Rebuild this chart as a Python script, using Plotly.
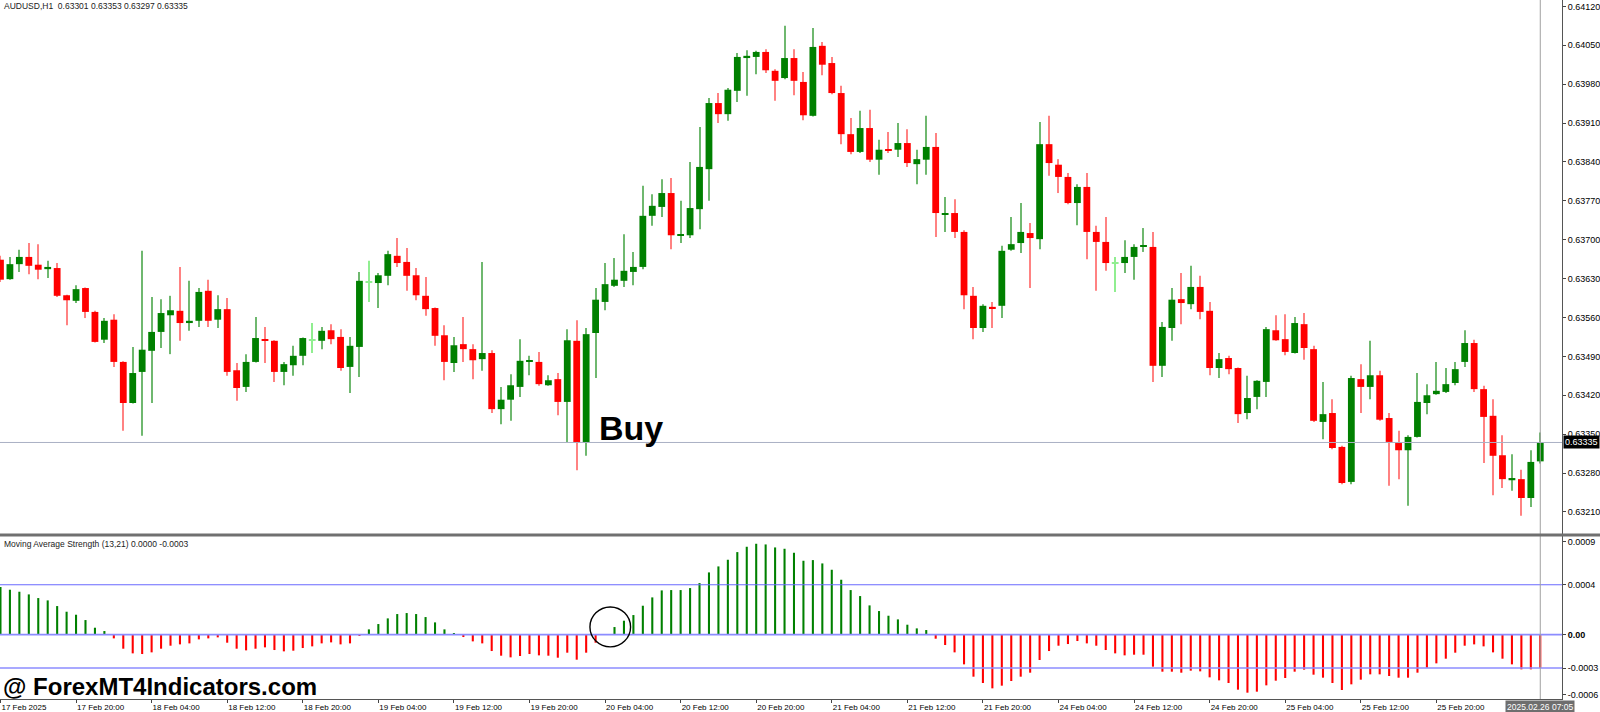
import numpy as np
import plotly.graph_objects as go

# === AUDUSD H1, 164 bars (17 Feb 12:00 -> 26 Feb 07:00) ===
opens = [
    0.63664, 0.63629, 0.63656, 0.63669, 0.63655, 0.63647, 0.63649, 0.63600, 0.63590, 0.63613,
    0.63570, 0.63520, 0.63556, 0.63480, 0.63406, 0.63462, 0.63500, 0.63534, 0.63564, 0.63572,
    0.63550, 0.63554, 0.63608, 0.63556, 0.63575, 0.63465, 0.63435, 0.63480, 0.63521, 0.63518,
    0.63462, 0.63474, 0.63491, 0.63520, 0.63518, 0.63537, 0.63525, 0.63471, 0.63507, 0.63624,
    0.63622, 0.63635, 0.63671, 0.63660, 0.63636, 0.63599, 0.63577, 0.63528, 0.63478, 0.63512,
    0.63503, 0.63485, 0.63496, 0.63395, 0.63412, 0.63435, 0.63480, 0.63480, 0.63438, 0.63449,
    0.63408, 0.63518, 0.63334, 0.63532, 0.63588, 0.63617, 0.63626, 0.63642, 0.63651, 0.63743,
    0.63759, 0.63784, 0.63707, 0.63708, 0.63755, 0.63827, 0.63946, 0.63926, 0.63968, 0.64027,
    0.64029, 0.64038, 0.64004, 0.63991, 0.64027, 0.63984, 0.63923, 0.64049, 0.64018, 0.63964,
    0.63890, 0.63858, 0.63901, 0.63844, 0.63863, 0.63862, 0.63874, 0.63836, 0.63844, 0.63867,
    0.63746, 0.63748, 0.63714, 0.63599, 0.63541, 0.63579, 0.63581, 0.63682, 0.63694, 0.63712,
    0.63701, 0.63872, 0.63835, 0.63813, 0.63766, 0.63795, 0.63714, 0.63696, 0.63658, 0.63658,
    0.63669, 0.63687, 0.63687, 0.63473, 0.63541, 0.63593, 0.63584, 0.63615, 0.63572, 0.63469,
    0.63487, 0.63469, 0.63388, 0.63417, 0.63444, 0.63537, 0.63521, 0.63496, 0.63548, 0.63503,
    0.63372, 0.63388, 0.63327, 0.63264, 0.63449, 0.63435, 0.63456, 0.63379, 0.63334, 0.63321,
    0.63345, 0.63406, 0.63422, 0.63426, 0.63442, 0.63480, 0.63514, 0.63431, 0.63383, 0.63312,
    0.63267, 0.63269, 0.63235, 0.63301,
]
highs = [
    0.63671, 0.63669, 0.63682, 0.63694, 0.63692, 0.63662, 0.63658, 0.63601, 0.63618, 0.63614,
    0.63572, 0.63559, 0.63566, 0.63481, 0.63507, 0.63680, 0.63597, 0.63593, 0.63599, 0.63651,
    0.63626, 0.63613, 0.63628, 0.63600, 0.63595, 0.63478, 0.63494, 0.63561, 0.63543, 0.63519,
    0.63480, 0.63509, 0.63524, 0.63550, 0.63543, 0.63548, 0.63539, 0.63525, 0.63642, 0.63662,
    0.63640, 0.63680, 0.63703, 0.63685, 0.63649, 0.63633, 0.63578, 0.63546, 0.63525, 0.63561,
    0.63512, 0.63660, 0.63501, 0.63435, 0.63458, 0.63521, 0.63491, 0.63498, 0.63456, 0.63460,
    0.63539, 0.63555, 0.63541, 0.63613, 0.63658, 0.63667, 0.63710, 0.63678, 0.63797, 0.63782,
    0.63809, 0.63811, 0.63770, 0.63840, 0.63903, 0.63955, 0.63964, 0.63973, 0.64036, 0.64041,
    0.64040, 0.64043, 0.64007, 0.64085, 0.64043, 0.64002, 0.64081, 0.64056, 0.64029, 0.63977,
    0.63919, 0.63932, 0.63934, 0.63880, 0.63894, 0.63910, 0.63899, 0.63862, 0.63923, 0.63892,
    0.63777, 0.63773, 0.63717, 0.63615, 0.63584, 0.63588, 0.63689, 0.63741, 0.63766, 0.63730,
    0.63912, 0.63923, 0.63845, 0.63820, 0.63800, 0.63820, 0.63725, 0.63741, 0.63669, 0.63699,
    0.63692, 0.63721, 0.63714, 0.63552, 0.63613, 0.63640, 0.63653, 0.63635, 0.63588, 0.63496,
    0.63491, 0.63470, 0.63455, 0.63447, 0.63543, 0.63564, 0.63566, 0.63561, 0.63568, 0.63509,
    0.63444, 0.63413, 0.63329, 0.63455, 0.63476, 0.63518, 0.63464, 0.63388, 0.63356, 0.63348,
    0.63460, 0.63440, 0.63480, 0.63469, 0.63480, 0.63537, 0.63520, 0.63437, 0.63413, 0.63348,
    0.63314, 0.63286, 0.63321, 0.63353,
]
lows = [
    0.63624, 0.63628, 0.63642, 0.63638, 0.63629, 0.63631, 0.63597, 0.63546, 0.63586, 0.63559,
    0.63515, 0.63514, 0.63471, 0.63356, 0.63405, 0.63347, 0.63406, 0.63505, 0.63494, 0.63518,
    0.63536, 0.63543, 0.63543, 0.63541, 0.63455, 0.63410, 0.63426, 0.63479, 0.63478, 0.63444,
    0.63438, 0.63455, 0.63474, 0.63496, 0.63503, 0.63512, 0.63464, 0.63424, 0.63453, 0.63588,
    0.63577, 0.63618, 0.63651, 0.63608, 0.63591, 0.63563, 0.63509, 0.63447, 0.63462, 0.63480,
    0.63449, 0.63464, 0.63388, 0.63368, 0.63374, 0.63417, 0.63456, 0.63437, 0.63437, 0.63384,
    0.63336, 0.63285, 0.63311, 0.63451, 0.63573, 0.63615, 0.63615, 0.63618, 0.63647, 0.63725,
    0.63741, 0.63683, 0.63694, 0.63703, 0.63719, 0.63770, 0.63910, 0.63914, 0.63948, 0.63959,
    0.63998, 0.64000, 0.63950, 0.63989, 0.63960, 0.63915, 0.63922, 0.63996, 0.63962, 0.63872,
    0.63854, 0.63856, 0.63840, 0.63817, 0.63856, 0.63849, 0.63831, 0.63800, 0.63817, 0.63705,
    0.63714, 0.63703, 0.63575, 0.63521, 0.63534, 0.63541, 0.63559, 0.63680, 0.63676, 0.63613,
    0.63683, 0.63815, 0.63784, 0.63764, 0.63726, 0.63665, 0.63608, 0.63644, 0.63606, 0.63640,
    0.63628, 0.63678, 0.63444, 0.63453, 0.63518, 0.63548, 0.63575, 0.63557, 0.63456, 0.63451,
    0.63458, 0.63370, 0.63377, 0.63395, 0.63417, 0.63518, 0.63492, 0.63495, 0.63484, 0.63372,
    0.63341, 0.63323, 0.63260, 0.63260, 0.63388, 0.63413, 0.63374, 0.63257, 0.63269, 0.63221,
    0.63344, 0.63386, 0.63421, 0.63424, 0.63438, 0.63471, 0.63426, 0.63298, 0.63240, 0.63253,
    0.63248, 0.63203, 0.63219, 0.63297,
]
closes = [
    0.63628, 0.63656, 0.63669, 0.63653, 0.63646, 0.63651, 0.63599, 0.63591, 0.63611, 0.63570,
    0.63516, 0.63554, 0.63480, 0.63406, 0.63460, 0.63502, 0.63534, 0.63568, 0.63573, 0.63550,
    0.63554, 0.63606, 0.63554, 0.63575, 0.63462, 0.63433, 0.63480, 0.63523, 0.63518, 0.63462,
    0.63476, 0.63491, 0.63523, 0.63520, 0.63536, 0.63521, 0.63469, 0.63509, 0.63626, 0.63624,
    0.63636, 0.63674, 0.63658, 0.63635, 0.63600, 0.63575, 0.63527, 0.63480, 0.63510, 0.63503,
    0.63483, 0.63496, 0.63395, 0.63412, 0.63438, 0.63482, 0.63482, 0.63440, 0.63447, 0.63408,
    0.63519, 0.63334, 0.63530, 0.63592, 0.63620, 0.63628, 0.63644, 0.63651, 0.63743, 0.63761,
    0.63784, 0.63708, 0.63710, 0.63757, 0.63831, 0.63946, 0.63926, 0.63970, 0.64029, 0.64031,
    0.64038, 0.64005, 0.63986, 0.64027, 0.63986, 0.63924, 0.64047, 0.64015, 0.63964, 0.63890,
    0.63858, 0.63901, 0.63844, 0.63862, 0.63861, 0.63874, 0.63838, 0.63845, 0.63867, 0.63748,
    0.63748, 0.63714, 0.63600, 0.63541, 0.63581, 0.63577, 0.63680, 0.63692, 0.63714, 0.63703,
    0.63872, 0.63838, 0.63813, 0.63766, 0.63795, 0.63714, 0.63696, 0.63658, 0.63658, 0.63669,
    0.63687, 0.63689, 0.63473, 0.63543, 0.63592, 0.63586, 0.63615, 0.63570, 0.63469, 0.63485,
    0.63467, 0.63386, 0.63415, 0.63446, 0.63539, 0.63519, 0.63498, 0.63550, 0.63505, 0.63374,
    0.63386, 0.63325, 0.63262, 0.63451, 0.63435, 0.63456, 0.63376, 0.63336, 0.63321, 0.63345,
    0.63408, 0.63420, 0.63428, 0.63440, 0.63467, 0.63514, 0.63431, 0.63381, 0.63311, 0.63269,
    0.63271, 0.63235, 0.63300, 0.63335,
]

# Moving Average Strength (13,21) histogram, one value per bar
mas_strength = [
    0.000429, 0.000405, 0.000387, 0.000363, 0.000330, 0.000309, 0.000258, 0.000207, 0.000180, 0.000132,
    0.000063, 0.000033, -0.000033, -0.000126, -0.000168, -0.000174, -0.000159, -0.000126, -0.000099, -0.000087,
    -0.000078, -0.000042, -0.000033, -0.000024, -0.000072, -0.000126, -0.000141, -0.000126, -0.000114, -0.000138,
    -0.000150, -0.000144, -0.000120, -0.000105, -0.000078, -0.000069, -0.000087, -0.000078, -0.000006, 0.000048,
    0.000096, 0.000147, 0.000186, 0.000195, 0.000186, 0.000159, 0.000111, 0.000048, 0.000015, -0.000021,
    -0.000060, -0.000078, -0.000147, -0.000189, -0.000204, -0.000192, -0.000174, -0.000186, -0.000189, -0.000207,
    -0.000162, -0.000225, -0.000162, -0.000072, 0.000003, 0.000069, 0.000126, 0.000177, 0.000261, 0.000336,
    0.000399, 0.000402, 0.000402, 0.000420, 0.000465, 0.000561, 0.000615, 0.000675, 0.000744, 0.000792,
    0.000819, 0.000813, 0.000786, 0.000774, 0.000738, 0.000666, 0.000672, 0.000642, 0.000585, 0.000495,
    0.000402, 0.000348, 0.000264, 0.000213, 0.000171, 0.000138, 0.000090, 0.000057, 0.000042, -0.000036,
    -0.000093, -0.000159, -0.000267, -0.000378, -0.000435, -0.000483, -0.000459, -0.000417, -0.000378, -0.000342,
    -0.000228, -0.000147, -0.000099, -0.000084, -0.000057, -0.000078, -0.000099, -0.000138, -0.000168, -0.000186,
    -0.000180, -0.000180, -0.000288, -0.000333, -0.000333, -0.000342, -0.000324, -0.000330, -0.000384, -0.000411,
    -0.000435, -0.000495, -0.000522, -0.000513, -0.000456, -0.000414, -0.000390, -0.000333, -0.000315, -0.000360,
    -0.000387, -0.000435, -0.000498, -0.000447, -0.000405, -0.000357, -0.000357, -0.000372, -0.000387, -0.000387,
    -0.000342, -0.000297, -0.000258, -0.000216, -0.000162, -0.000099, -0.000087, -0.000105, -0.000159, -0.000216,
    -0.000267, -0.000312, -0.000312, -0.000300,
]
mas_levels = [0.00045, -0.0003]

tick_idx = [0, 8, 16, 24, 32, 40, 48, 56, 64, 72, 80, 88, 96, 104, 112, 120, 128, 136, 144, 152]
tick_labels = ['17 Feb 2025', '17 Feb 20:00', '18 Feb 04:00', '18 Feb 12:00', '18 Feb 20:00',
               '19 Feb 04:00', '19 Feb 12:00', '19 Feb 20:00', '20 Feb 04:00', '20 Feb 12:00',
               '20 Feb 20:00', '21 Feb 04:00', '21 Feb 12:00', '21 Feb 20:00', '24 Feb 04:00',
               '24 Feb 12:00', '24 Feb 20:00', '25 Feb 04:00', '25 Feb 12:00', '25 Feb 20:00']
server_time = '2025.02.26 07:05'
signal_idx = 64   # zero cross of the histogram -> "Buy"

FONT = 'Liberation Sans, Arial, sans-serif'
GREEN, RED, DOJI = '#008000', '#ff0000', '#90ee90'

o, h, l, c = (np.array(a) for a in (opens, highs, lows, closes))
idx = np.arange(len(o))

body_col = np.where(c > o, GREEN, np.where(c < o, RED, DOJI))
wick_col = np.where(c > o, '#6fb86f', np.where(c < o, '#ff8282', DOJI))
body_h = np.maximum(np.abs(c - o), 0.000022)
body_base = np.minimum(o, c) - (body_h - np.abs(c - o)) / 2

fig = go.Figure()
# wicks
fig.add_trace(go.Bar(x=idx, y=h - l, base=l, width=0.11,
                     marker=dict(color=list(wick_col), line_width=0),
                     xaxis='x', yaxis='y', hoverinfo='skip'))
# bodies
fig.add_trace(go.Bar(x=idx, y=body_h, base=body_base, width=0.72,
                     marker=dict(color=list(body_col), line_width=0),
                     xaxis='x', yaxis='y', hoverinfo='skip'))
# histogram
mas = np.array(mas_strength)
fig.add_trace(go.Bar(x=idx, y=mas, width=0.22,
                     marker=dict(color=list(np.where(mas >= 0, GREEN, RED)), line_width=0),
                     xaxis='x', yaxis='y2', hoverinfo='skip'))

# --- reference lines ---
shapes = []
shapes.append(dict(type='line', xref='paper', yref='y', x0=0, x1=1, y0=c[-1], y1=c[-1],
                   line=dict(color='#aab0c4', width=1)))
for lv in mas_levels:
    shapes.append(dict(type='line', xref='paper', yref='y2', x0=0, x1=1, y0=lv, y1=lv,
                       line=dict(color='#6a6aff' if lv > 0 else '#8c8cff', width=1.2 if lv > 0 else 1.6)))
shapes.append(dict(type='line', xref='paper', yref='y2', x0=0, x1=1, y0=0, y1=0,
                   line=dict(color='#8c8cff', width=1.8)))
shapes.append(dict(type='line', xref='x', yref='paper', x0=idx[-1], x1=idx[-1], y0=0, y1=1,
                   line=dict(color='#a0a0a0', width=1)))
# panel separator
shapes.append(dict(type='line', xref='paper', yref='paper', x0=0, x1=1.03, y0=0.2347, y1=0.2347,
                   line=dict(color='#707070', width=3)))
# circle around the signal bar
shapes.append(dict(type='circle', xref='x', yref='y2',
                   x0=signal_idx + 0.55 - 2.15, x1=signal_idx + 0.55 + 2.15,
                   y0=0.00007 - 0.00018, y1=0.00007 + 0.00018,
                   line=dict(color='black', width=1.4)))

annotations = [
    dict(xref='paper', yref='paper', x=0.0013, y=1, xanchor='left', yanchor='top', yshift=1,
         text=f'AUDUSD,H1  {o[-1]:.5f} {h[-1]:.5f} {l[-1]:.5f} {c[-1]:.5f}',
         showarrow=False, font=dict(family=FONT, size=8.5, color='#222')),
    dict(xref='paper', yref='paper', x=0.0013, y=0.2332, xanchor='left', yanchor='top', yshift=-1,
         text='Moving Average Strength (13,21) 0.0000 -0.0003',
         showarrow=False, font=dict(family=FONT, size=8.5, color='#222')),
    dict(xref='x', yref='y', x=signal_idx - 0.9, y=0.63361, xanchor='left', yanchor='middle',
         text='<b>Buy</b>', showarrow=False, font=dict(family=FONT, size=34, color='black')),
    dict(xref='paper', yref='paper', x=0.0006, y=0.0172, xanchor='left', yanchor='middle',
         text='<b>@ ForexMT4Indicators.com</b>', showarrow=False,
         font=dict(family=FONT, size=24, color='black')),
    dict(xref='paper', yref='y', x=1.0006, y=c[-1], xanchor='left', yanchor='middle',
         text=f'{c[-1]:.5f}', showarrow=False, bgcolor='black', borderpad=1,
         font=dict(family=FONT, size=9, color='white')),
    dict(xref='x', yref='paper', x=idx[-1], y=0, xanchor='center', yanchor='top', yshift=-1,
         text=server_time, showarrow=False, bgcolor='#6e6e6e', borderpad=1,
         font=dict(family=FONT, size=8.5, color='white')),
]

fig.update_layout(
    width=1600, height=712,
    margin=dict(l=0, r=38, t=0, b=13),
    paper_bgcolor='white', plot_bgcolor='white',
    showlegend=False, barmode='overlay', hovermode=False,
    shapes=shapes, annotations=annotations,
    xaxis=dict(domain=[0, 1], anchor='y2', range=[-0.05, 165.3],
               tickmode='array', tickvals=tick_idx, ticktext=tick_labels,
               ticks='outside', ticklen=3, tickcolor='#444', ticklabelposition='outside right',
               tickfont=dict(family=FONT, size=8, color='black'),
               showgrid=False, zeroline=False, showline=True, linecolor='#555', linewidth=1,
               automargin=False),
    yaxis=dict(domain=[0.2361, 1], anchor='x', side='right', range=[0.631703, 0.641315],
               tickmode='linear', tick0=0.6321, dtick=0.0007, tickformat='.5f',
               ticks='outside', ticklen=3, tickcolor='#444',
               tickfont=dict(family=FONT, size=9, color='black'),
               showgrid=False, zeroline=False, showline=True, linecolor='#555', linewidth=1,
               automargin=False),
    yaxis2=dict(domain=[0, 0.2332], anchor='x', side='right', range=[-0.000579, 0.000889],
                tickmode='array', tickvals=[0.000835, 0.00045, 0, -0.0003, -0.000539],
                ticktext=['0.0009', '0.0004', '<b>0.00</b>', '-0.0003', '-0.0006'],
                ticks='outside', ticklen=3, tickcolor='#444',
                tickfont=dict(family=FONT, size=9, color='black'),
                showgrid=False, zeroline=False, showline=True, linecolor='#555', linewidth=1,
                automargin=False),
)

# page body has a default 8px margin; drop it so the figure fills the window
fig.write_html('out.html', config={'displayModeBar': False},
               post_script="document.body.style.margin='0';")
